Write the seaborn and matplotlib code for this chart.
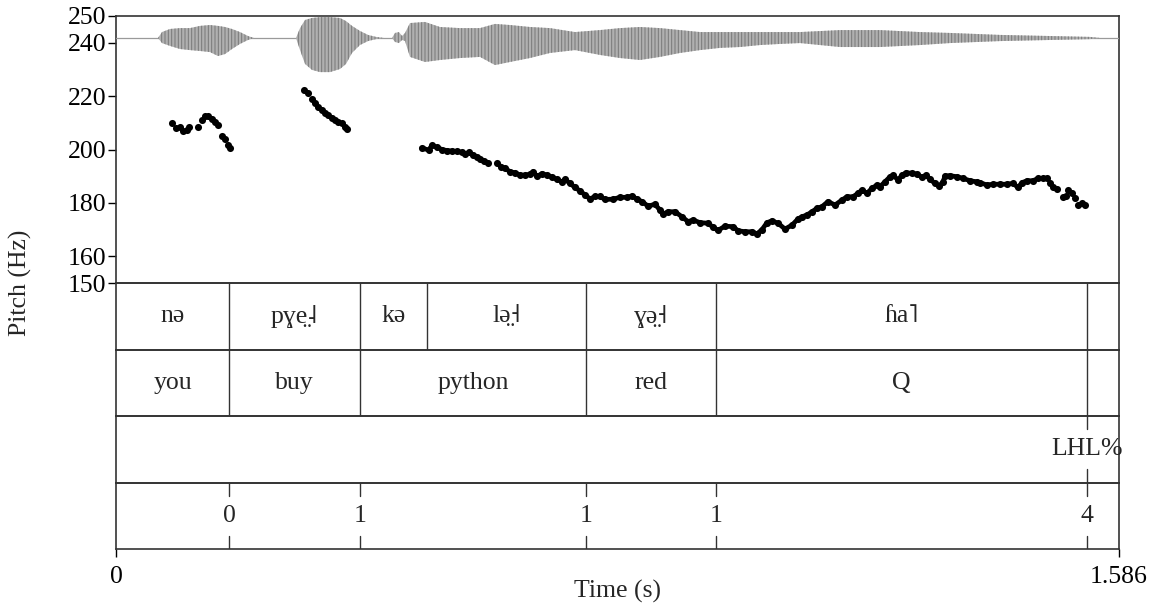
import numpy as np
import pandas as pd
import matplotlib
matplotlib.use("Agg")
import matplotlib.pyplot as plt
import seaborn as sns

# ---------------- data ----------------
T_END = 1.586

# pitch track (s, Hz), three voiced stretches
f0_a_time = [0.0886, 0.0949, 0.1012, 0.1059, 0.1123, 0.1154, 0.1297, 0.1360, 0.1407,
             0.1455, 0.1518, 0.1565, 0.1613, 0.1676, 0.1724, 0.1771, 0.1803]
f0_a_hz = [209.9, 208.1, 208.4, 207.1, 207.3, 208.4, 208.4, 211.0, 212.4,
           212.4, 211.6, 210.3, 209.2, 205.1, 203.9, 201.7, 200.6]

f0_b_time = [0.2973, 0.3036, 0.3099, 0.3147, 0.3194, 0.3257, 0.3305, 0.3352, 0.3416,
             0.3463, 0.3510, 0.3574, 0.3621, 0.3653]
f0_b_hz = [222.3, 221.2, 218.9, 217.4, 215.9, 214.8, 213.7, 212.9, 211.8,
           211.0, 210.3, 209.9, 208.4, 207.7]

f0_c_time = [0.4834, 0.4942, 0.4997, 0.5076, 0.5155, 0.5234, 0.5313, 0.5392, 0.5471,
             0.5519, 0.5582, 0.5645, 0.5708, 0.5756, 0.5819, 0.5882,
             0.6025, 0.6088, 0.6151, 0.6230, 0.6309, 0.6388, 0.6467, 0.6547, 0.6594,
             0.6657, 0.6736, 0.6815, 0.6894, 0.6974, 0.7053, 0.7100, 0.7179, 0.7258,
             0.7337, 0.7416, 0.7495, 0.7574, 0.7653, 0.7733, 0.7859, 0.7970, 0.8080,
             0.8160, 0.8239, 0.8318, 0.8413, 0.8523, 0.8602, 0.8650, 0.8729, 0.8839,
             0.8950, 0.9045, 0.9124, 0.9235, 0.9361, 0.9440, 0.9519, 0.9630, 0.9757,
             0.9836, 0.9946, 1.0057, 1.0136, 1.0215, 1.0294, 1.0373, 1.0468, 1.0579,
             1.0690, 1.0784, 1.0848, 1.0927, 1.1006, 1.1085, 1.1164, 1.1259, 1.1370,
             1.1480, 1.1559, 1.1654, 1.1733, 1.1796, 1.1876, 1.1955, 1.2034, 1.2081,
             1.2160, 1.2239, 1.2287, 1.2366, 1.2429, 1.2492, 1.2587, 1.2666, 1.2745,
             1.2809, 1.2872, 1.2951, 1.3014, 1.3077, 1.3109, 1.3188, 1.3299, 1.3394,
             1.3504, 1.3615, 1.3662, 1.3773, 1.3868, 1.3979, 1.4089, 1.4184, 1.4263,
             1.4327, 1.4406, 1.4501, 1.4580, 1.4659, 1.4722, 1.4769, 1.4817, 1.4880,
             1.4975, 1.5022, 1.5054, 1.5117, 1.5165, 1.5212, 1.5275, 1.5323]
f0_c_hz = [200.6, 199.8, 201.5, 200.8, 200.0, 199.6, 199.4, 199.3, 198.9,
           198.3, 198.9, 197.9, 197.1, 196.3, 195.7, 195.1,
           194.8, 193.6, 193.0, 191.7, 191.3, 190.4, 190.4, 190.7, 191.7,
           189.9, 191.0, 190.4, 189.7, 188.8, 187.9, 188.8, 187.3, 185.8,
           184.5, 183.0, 181.5, 182.4, 182.4, 181.3, 181.4, 182.1, 182.1,
           182.6, 181.4, 180.5, 178.8, 179.5, 177.3, 175.8, 176.7, 176.7,
           174.8, 173.0, 173.6, 172.6, 172.4, 170.9, 169.7, 171.3, 171.1,
           169.6, 169.2, 169.2, 168.4, 170.0, 172.6, 173.3, 172.4, 170.2,
           171.7, 174.0, 174.8, 175.5, 176.7, 178.0, 178.6, 180.5, 179.2,
           181.1, 182.3, 182.3, 183.6, 184.8, 183.6, 185.5, 186.7, 186.1,
           187.9, 189.8, 190.4, 188.6, 190.4, 191.3, 191.1, 190.8, 189.6,
           190.4, 188.8, 187.3, 186.3, 187.9, 190.1, 190.2, 189.8, 189.2,
           188.3, 187.9, 187.6, 186.7, 187.0, 187.0, 187.0, 187.3, 185.8,
           187.6, 188.3, 188.3, 189.2, 189.2, 189.2, 187.3, 185.8, 185.1,
           182.3, 182.6, 184.8, 183.6, 181.7, 179.2, 179.9, 179.2]

# stretches of stretch c where the dots merge into an unbroken trace (s)
merged_runs = [(0.4834, 0.5882), (0.6025, 1.4722)]

# waveform envelope (s, upper / lower amplitude, full scale = 1)
wave_time = [0.0, 0.0664, 0.0727, 0.0854, 0.1012, 0.1170, 0.1328, 0.1486, 0.1613,
             0.1724, 0.1834, 0.1961, 0.2087, 0.2182, 0.2846, 0.2910, 0.2989, 0.3099,
             0.3226, 0.3384, 0.3542, 0.3637, 0.3732, 0.3858, 0.3985, 0.4111, 0.4238,
             0.4364, 0.4412, 0.4475, 0.4523, 0.4570, 0.4649, 0.4886, 0.5123, 0.5440,
             0.5756, 0.5993, 0.6230, 0.6547, 0.6863, 0.7258, 0.7653, 0.7970, 0.8286,
             0.8602, 0.8919, 0.9235, 0.9551, 0.9867, 1.0184, 1.0500, 1.0816, 1.1449,
             1.2081, 1.2714, 1.3188, 1.3979, 1.4769, 1.5402, 1.5560, 1.586]
wave_upper = [0, 0, .27, .41, .45, .45, .55, .59, .55,
              .50, .41, .27, .09, 0, 0, .45, .82, .91,
              .95, .95, .91, .77, .55, .32, .14, .05, 0,
              0, .23, .27, .09, .23, .68, .73, .50, .45,
              .45, .64, .59, .50, .45, .27, .36, .45, .50,
              .45, .36, .27, .27, .27, .27, .27, .27, .36,
              .36, .27, .23, .14, .09, .05, 0, 0]
wave_lower = [0, 0, -.23, -.36, -.50, -.55, -.59, -.64, -.82,
              -.73, -.50, -.27, -.09, 0, 0, -.55, -1.18, -1.45,
              -1.55, -1.55, -1.41, -1.18, -.68, -.32, -.14, -.05, 0,
              0, -.18, -.23, -.09, -.14, -.86, -1.09, -1.0, -.91,
              -.86, -1.23, -1.09, -.91, -.68, -.55, -.77, -.91, -1.0,
              -.86, -.68, -.55, -.45, -.41, -.32, -.27, -.23, -.41,
              -.41, -.32, -.23, -.14, -.09, -.05, 0, 0]

# TextGrid tiers
syll_edges = [0.0, 0.1787, 0.3858, 0.4918, 0.7432, 0.9488, 1.5354, 1.586]
syll_labels = ["nə", "pɣe̤˨", "kə", "lə̤˧", "ɣə̤˧", "ɦa˥", ""]
word_edges = [0.0, 0.1787, 0.3858, 0.7432, 0.9488, 1.5354, 1.586]
word_labels = ["you", "buy", "python", "red", "Q", ""]
tone_points = [1.5354]
tone_labels = ["LHL%"]
break_points = [0.1787, 0.3858, 0.7432, 0.9488, 1.5354]
break_labels = ["0", "1", "1", "1", "4"]

pitch_ticks = [150, 160, 180, 200, 220, 240, 250]

# ---------------- style ----------------
sns.set_theme(style="ticks")
plt.rcParams["font.family"] = ["Liberation Serif", "DejaVu Serif"]
plt.rcParams["hatch.linewidth"] = 0.7
FS = 18.5
LC = "#333333"

W, H = 1152, 606
fig = plt.figure(figsize=(W / 100, H / 100), dpi=100)
fig.patch.set_facecolor("white")

L, R = 116, 1119
TOP, PB = 16, 283
TIER_H = 66.5


def fax(x0, y0, x1, y1):
    return [x0 / W, 1 - y1 / H, (x1 - x0) / W, (y1 - y0) / H]


# pitch panel
axp = fig.add_axes(fax(L, TOP, R, PB))
# waveform (transparent overlay)
axw = fig.add_axes(fax(L, TOP, R, TOP + 66), sharex=axp)
axw.set_ylim(-2.0, 1.0)
axw.axis("off")
axw.patch.set_alpha(0)

axw.fill_between(wave_time, wave_lower, wave_upper, facecolor="#b0b0b0",
                 edgecolor="#787878", hatch="|||||", lw=0, zorder=2)
sns.lineplot(x=[0, T_END], y=[0, 0], ax=axw, color="#9a9a9a", lw=0.9, zorder=1)

pitch_df = pd.concat([
    pd.DataFrame({"time": f0_a_time, "hz": f0_a_hz}),
    pd.DataFrame({"time": f0_b_time, "hz": f0_b_hz}),
    pd.DataFrame({"time": f0_c_time, "hz": f0_c_hz}),
], ignore_index=True)
sns.scatterplot(data=pitch_df, x="time", y="hz", ax=axp, color="black", s=26,
                linewidth=0, zorder=3)
for a, b in merged_runs:
    run = pitch_df[(pitch_df["time"] >= a) & (pitch_df["time"] <= b)]
    sns.lineplot(data=run, x="time", y="hz", ax=axp, color="black", lw=3.4,
                 estimator=None, sort=False, zorder=3, solid_capstyle="round",
                 solid_joinstyle="round")
axp.set_xlim(0, T_END)
axp.set_ylim(150, 250)
axp.set_yticks(pitch_ticks)
axp.set_yticklabels([str(v) for v in pitch_ticks], fontsize=FS)
axp.set_xlabel("")
axp.set_ylabel("")
axp.tick_params(axis="y", direction="out", length=6, width=1.0, pad=1, colors="black")
axp.tick_params(axis="x", bottom=False, labelbottom=False)
for sp in axp.spines.values():
    sp.set_color(LC)
    sp.set_linewidth(1.2)

tiers = []
for i in range(4):
    y0 = PB + TIER_H * i
    ax = fig.add_axes(fax(L, y0, R, y0 + TIER_H), sharex=axp)
    ax.set_ylim(0, 1)
    ax.set_yticks([])
    ax.tick_params(axis="x", bottom=False, labelbottom=False)
    for sp in ax.spines.values():
        sp.set_color(LC)
        sp.set_linewidth(1.2)
    ax.patch.set_alpha(0)
    tiers.append(ax)


def interval_tier(ax, edges, labels):
    for e in edges[1:-1]:
        ax.plot([e, e], [0, 1], color=LC, lw=1.0)
    for a, b, lab in zip(edges[:-1], edges[1:], labels):
        if lab:
            ax.text((a + b) / 2, 0.5, lab, ha="center", va="center", fontsize=FS)


def point_tier(ax, points, labels):
    for p, lab in zip(points, labels):
        ax.plot([p, p], [0.8, 1.0], color=LC, lw=1.0)
        ax.plot([p, p], [0.0, 0.2], color=LC, lw=1.0)
        ax.text(p, 0.5, lab, ha="center", va="center", fontsize=FS)


interval_tier(tiers[0], syll_edges, syll_labels)
interval_tier(tiers[1], word_edges, word_labels)
point_tier(tiers[2], tone_points, tone_labels)
point_tier(tiers[3], break_points, break_labels)

axb = tiers[3]
axb.set_xticks([0, T_END])
axb.set_xticklabels(["0", "1.586"], fontsize=FS)
axb.tick_params(axis="x", bottom=True, labelbottom=True, direction="out",
                length=6, width=1.0, pad=6, colors="black")
axb.set_xlim(0, T_END)

fig.text(20 / W, 1 - 283 / H, "Pitch (Hz)", rotation=90, ha="center", va="center",
         fontsize=FS)
fig.text((L + R) / 2 / W, 1 - 591 / H, "Time (s)", ha="center", va="center",
         fontsize=FS)

fig.savefig("out.png", dpi=100, facecolor="white")
